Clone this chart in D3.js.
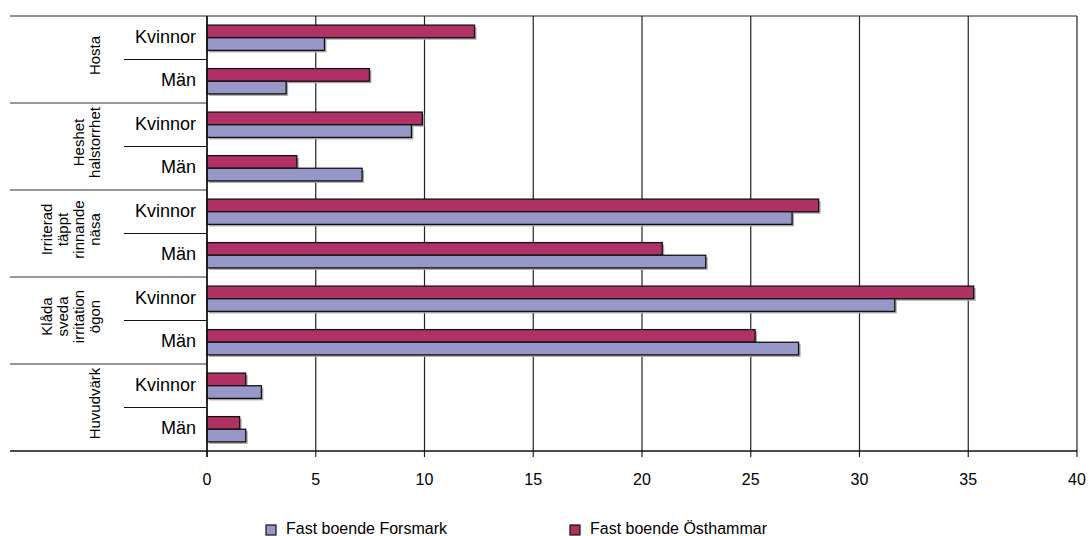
<!DOCTYPE html>
<html><head><meta charset="utf-8">
<script src="https://cdn.jsdelivr.net/npm/d3@7"></script>
<style>body{margin:0;background:#fff}svg{display:block;font-family:"Liberation Sans",Arial,sans-serif}</style>
</head><body><svg id="c" width="1090" height="536"></svg>
<script>
const groups = [["Hosta"], ["Heshet","halstorrhet"], ["Irriterad","täppt","rinnande","näsa"], ["Klåda","sveda","irritation","ögon"], ["Huvudvärk"]];
const genders = ["Kvinnor", "Män"];
const seriesNames = ["Fast boende Östhammar", "Fast boende Forsmark"];
const legendNames = ["Fast boende Forsmark", "Fast boende Östhammar"];
const forsmark  = [5.4, 3.64, 9.4, 7.13, 26.9, 22.93, 31.62, 27.2, 2.5, 1.78];
const osthammar = [12.3, 7.47, 9.9, 4.13, 28.12, 20.93, 35.25, 25.2, 1.78, 1.5];
const xTicks = [0, 5, 10, 15, 20, 25, 30, 35, 40];
const colors = {"Fast boende Forsmark": "#9898c8", "Fast boende Östhammar": "#b03264"};

(function () {
const svg = d3.select("#c");
const mLeft = 207, mRight = 1077, mTop = 16, mBottom = 451;
const rows = [];
groups.forEach((g, gi) => genders.forEach((s, si) => rows.push({g: gi, sex: s, key: gi + "-" + s, i: gi * 2 + si})));

const x = d3.scaleLinear().domain([0, 40]).range([mLeft, mRight]);
const y = d3.scaleBand().domain(rows.map(r => r.key)).range([mTop, mBottom]).padding(0);
const ys = d3.scaleBand().domain(seriesNames).range([0, y.bandwidth()]).paddingInner(0).paddingOuter(0.72);

// gridlines with ticks below
svg.append("g").selectAll("line").data(xTicks).join("line")
  .attr("x1", d => x(d)).attr("x2", d => x(d)).attr("y1", mTop).attr("y2", mBottom + 6)
  .attr("stroke", "#222").attr("stroke-width", 1.2);

// frame lines
svg.append("line").attr("x1", 10).attr("x2", mRight).attr("y1", mTop).attr("y2", mTop).attr("stroke", "#222").attr("stroke-width", 1.2);
svg.append("line").attr("x1", 10).attr("x2", mRight).attr("y1", mBottom).attr("y2", mBottom).attr("stroke", "#111").attr("stroke-width", 1.4);

// group separators
const gStep = y.step() * 2;
svg.append("g").selectAll("line").data(d3.range(1, groups.length)).join("line")
  .attr("x1", 10).attr("x2", mLeft).attr("y1", d => mTop + d * gStep).attr("y2", d => mTop + d * gStep)
  .attr("stroke", "#333").attr("stroke-width", 1.2);
// gender separators
svg.append("g").selectAll("line").data(d3.range(groups.length)).join("line")
  .attr("x1", 124).attr("x2", mLeft).attr("y1", d => mTop + d * gStep + y.step()).attr("y2", d => mTop + d * gStep + y.step())
  .attr("stroke", "#111").attr("stroke-width", 1.2);

// bars
const barData = [];
rows.forEach(r => {
  barData.push({key: r.key, s: "Fast boende Östhammar", v: osthammar[r.i]});
  barData.push({key: r.key, s: "Fast boende Forsmark", v: forsmark[r.i]});
});
const bg = svg.append("g");
bg.selectAll("rect.sh").data(barData).join("rect").attr("class", "sh")
  .attr("x", x(0) + 2).attr("y", d => y(d.key) + ys(d.s) + 2)
  .attr("width", d => x(d.v) - x(0)).attr("height", ys.bandwidth())
  .attr("fill", "#aaa");
bg.selectAll("rect.b").data(barData).join("rect").attr("class", "b")
  .attr("x", x(0)).attr("y", d => y(d.key) + ys(d.s))
  .attr("width", d => x(d.v) - x(0)).attr("height", ys.bandwidth())
  .attr("fill", d => colors[d.s]).attr("stroke", "#111").attr("stroke-width", 1.3);

// axis line at 0
svg.append("line").attr("x1", mLeft).attr("x2", mLeft).attr("y1", mTop).attr("y2", mBottom + 6).attr("stroke", "#111").attr("stroke-width", 1.5);

// x tick labels
svg.append("g").selectAll("text").data(xTicks).join("text")
  .attr("x", d => x(d)).attr("y", 485).attr("text-anchor", "middle")
  .attr("font-size", 16).attr("fill", "#000").text(d => d);

// gender labels
svg.append("g").selectAll("text").data(rows).join("text")
  .attr("x", 196).attr("y", r => y(r.key) + y.bandwidth() / 2 + 5)
  .attr("text-anchor", "end").attr("font-size", 18).attr("fill", "#000").text(r => r.sex);

// group labels (rotated)
groups.forEach((lines, gi) => {
  const cy = mTop + gi * gStep + gStep / 2 - 4;
  const n = lines.length;
  lines.forEach((t, li) => {
    const cx = 94 - (n - 1 - li) * 15.7;
    svg.append("text").attr("transform", `translate(${cx + 5.5},${cy}) rotate(-90)`)
      .attr("text-anchor", "middle").attr("font-size", 15).attr("fill", "#000").text(t);
  });
});

// legend
const lx = [266, 570];
legendNames.forEach((n, i) => {
  svg.append("rect").attr("x", lx[i]).attr("y", 525).attr("width", 10).attr("height", 10)
    .attr("fill", colors[n]).attr("stroke", "#111").attr("stroke-width", 1.2);
  svg.append("text").attr("x", lx[i] + 20).attr("y", 534).attr("font-size", 16).attr("fill", "#000").text(n);
});
})();
</script></body></html>
